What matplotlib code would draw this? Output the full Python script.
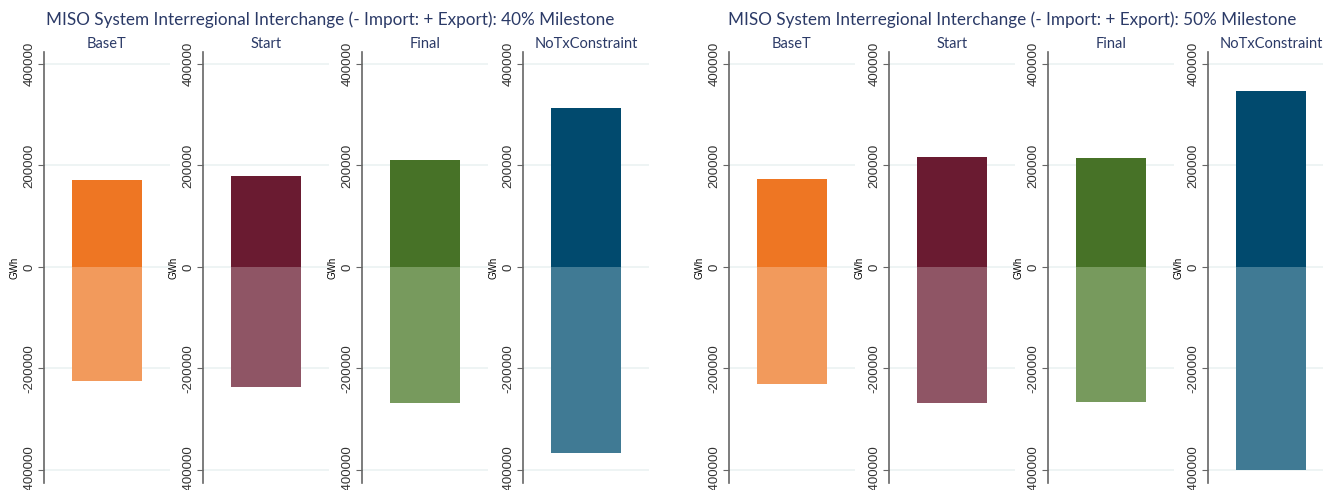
import numpy as np
import matplotlib.pyplot as plt

scenarios = ["BaseT", "Start", "Final", "NoTxConstraint"]
milestones = ["40%", "50%"]
export_40 = [172000, 179000, 211000, 313000]
import_40 = [-224000, -236000, -268000, -366000]
export_50 = [173000, 217000, 215000, 347000]
import_50 = [-230000, -268000, -266000, -400000]
dark = ["#EE7623", "#6A1B31", "#477227", "#014A6E"]
light = ["#F29A5C", "#8F5565", "#779A5D", "#407A94"]

navy = "#2B3A67"
W, H = 1323, 490
fig = plt.figure(figsize=(W / 100, H / 100), dpi=100)

lefts = [44, 203, 362, 523, 729, 889, 1048, 1208]
aw = 126
top, bot = 52, 483
data = [(export_40, import_40), (export_50, import_50)]

for g in range(2):
    exp_vals, imp_vals = data[g]
    for i, name in enumerate(scenarios):
        x0 = lefts[g * 4 + i]
        ax = fig.add_axes([x0 / W, 1 - bot / H, aw / W, (bot - top) / H])
        ax.bar([0], [exp_vals[i]], width=0.56, color=dark[i], linewidth=0, zorder=3)
        ax.bar([0], [imp_vals[i]], width=0.56, color=light[i], linewidth=0, zorder=3)
        ax.set_xlim(-0.5, 0.5)
        ax.set_ylim(-425600, 423600)
        ax.set_yticks([-400000, -200000, 0, 200000, 400000])
        ax.set_yticklabels(["-400000", "-200000", "0", "200000", "400000"],
                           rotation=90, va="center", fontsize=9.5, family="Liberation Sans", color="#333333")
        ax.set_xticks([])
        for s in ["top", "right", "bottom"]:
            ax.spines[s].set_visible(False)
        ax.spines["left"].set_color("#666666")
        ax.spines["left"].set_linewidth(1.2)
        ax.tick_params(axis="y", length=4, color="#666666", pad=2)
        ax.grid(axis="y", color="#EBF2F2", linewidth=1.2, zorder=0)
        ax.set_axisbelow(True)
        ax.set_ylabel("GWh", fontsize=7, family="Liberation Sans", labelpad=3)
        ax.set_title(name, fontsize=10.5, family="Lato", color=navy, pad=3)

fig.text(330 / W, 1 - 20 / H, "MISO System Interregional Interchange (- Import: + Export): 40% Milestone",
         ha="center", va="center", fontsize=12.3, family="Lato", color=navy)
fig.text(1012 / W, 1 - 20 / H, "MISO System Interregional Interchange (- Import: + Export): 50% Milestone",
         ha="center", va="center", fontsize=12.3, family="Lato", color=navy)

fig.savefig("out.png", dpi=100)
